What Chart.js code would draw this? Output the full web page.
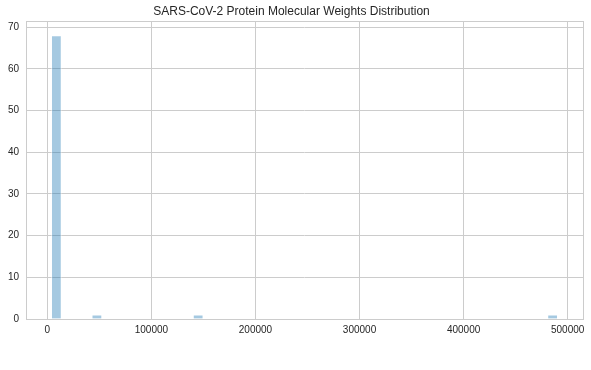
<!DOCTYPE html>
<html>
<head>
<meta charset="utf-8">
<script src="https://cdn.jsdelivr.net/npm/chart.js@4"></script>
<style>
  html, body { margin: 0; padding: 0; background: #fff; }
  #wrap { width: 591px; height: 370px; }
</style>
</head>
<body>
<div id="wrap"><canvas id="histChart"></canvas></div>
<script>
// histogram of protein molecular weights (Da), 50 equal bins
const histMin = 3850;
const histMax = 490400;
const binCounts = [
    68, 0, 0, 0, 1, 0, 0, 0, 0, 0,
    0, 0, 0, 0, 1, 0, 0, 0, 0, 0,
    0, 0, 0, 0, 0, 0, 0, 0, 0, 0,
    0, 0, 0, 0, 0, 0, 0, 0, 0, 0,
    0, 0, 0, 0, 0, 0, 0, 0, 0, 1
];
const xTicks = [0, 100000, 200000, 300000, 400000, 500000];
const yTicks = [0, 10, 20, 30, 40, 50, 60, 70];

const binWidth = (histMax - histMin) / binCounts.length;
const histData = binCounts.map((count, i) => ({ x: histMin + (i + 0.5) * binWidth, y: count }));

// matplotlib-like 5% margins
const xPad = (histMax - histMin) * 0.05;
const yMax = Math.max(...binCounts) * 1.05;

const gridColor = '#cccccc';
const textColor = '#262626';

// draws the light frame around the plot area (seaborn whitegrid spines)
const framePlugin = {
    id: 'frame',
    afterDraw(chart) {
        const { ctx, chartArea } = chart;
        ctx.save();
        ctx.strokeStyle = gridColor;
        ctx.lineWidth = 1;
        ctx.strokeRect(Math.round(chartArea.left) + 0.5, Math.round(chartArea.top) + 0.5,
            Math.round(chartArea.right - chartArea.left), Math.round(chartArea.bottom - chartArea.top));
        ctx.restore();
    }
};

const ctx = document.getElementById('histChart').getContext('2d');
new Chart(ctx, {
    type: 'bar',
    data: {
        datasets: [{
            data: histData,
            backgroundColor: 'rgba(31, 119, 180, 0.4)',
            borderColor: 'rgba(255, 255, 255, 0.4)',
            borderWidth: 1,
            barPercentage: 1,
            categoryPercentage: 1
        }]
    },
    options: {
        responsive: true,
        maintainAspectRatio: false,
        animation: false,
        layout: { padding: { left: 0, right: 8, top: 0, bottom: 0 } },
        plugins: {
            legend: { display: false },
            tooltip: { enabled: false },
            title: {
                display: true,
                text: 'SARS-CoV-2 Protein Molecular Weights Distribution',
                color: textColor,
                font: { family: 'Liberation Sans, Arial, sans-serif', size: 12, weight: 'normal' },
                padding: { top: 4, bottom: 3 }
            }
        },
        scales: {
            x: {
                type: 'linear',
                offset: false,
                min: histMin - xPad,
                max: histMax + xPad,
                afterBuildTicks: scale => { scale.ticks = xTicks.map(v => ({ value: v })); },
                afterFit: scale => { scale.height = 51; },
                grid: { color: gridColor, drawTicks: false, offset: false },
                border: { display: false },
                ticks: {
                    color: textColor,
                    padding: 5,
                    maxRotation: 0,
                    autoSkip: false,
                    font: { family: 'Liberation Sans, Arial, sans-serif', size: 10 },
                    callback: v => String(v)
                }
            },
            y: {
                min: 0,
                max: yMax,
                afterBuildTicks: scale => { scale.ticks = yTicks.map(v => ({ value: v })); },
                afterFit: scale => { scale.width = 26; },
                grid: { color: gridColor, drawTicks: false },
                border: { display: false },
                ticks: {
                    color: textColor,
                    padding: 7,
                    autoSkip: false,
                    font: { family: 'Liberation Sans, Arial, sans-serif', size: 10 },
                    callback: v => String(v)
                }
            }
        }
    },
    plugins: [framePlugin]
});
</script>
</body>
</html>
